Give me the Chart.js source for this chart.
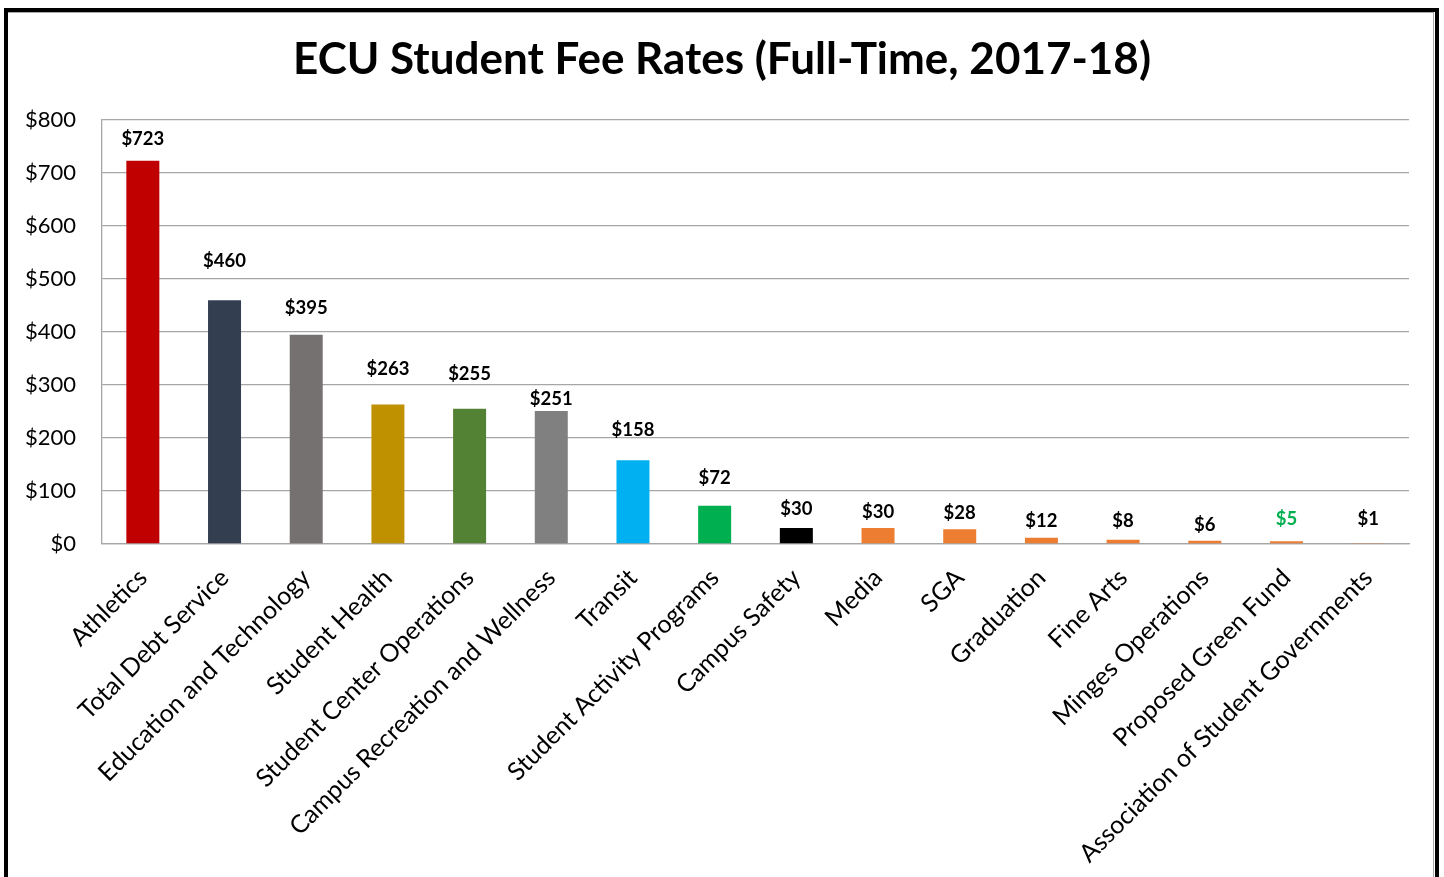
<!DOCTYPE html>
<html>
<head>
<meta charset="utf-8">
<script src="https://cdn.jsdelivr.net/npm/chart.js@4.4.0/dist/chart.umd.min.js"></script>
<style>
  html, body { margin: 0; padding: 0; background: #fff; overflow: hidden; }
  #wrap { position: relative; width: 1444px; height: 877px; }
  #frame { position: absolute; left: 4px; top: 8px; width: 1427px; height: 900px;
           border-left: 4px solid #000; border-top: 4px solid #000; border-right: 4px solid #000;
           pointer-events: none; }
  #frame2 { position: absolute; left: 8px; top: 12px; width: 1425px; height: 900px;
           border-top: 1px solid #aaa; border-right: 1px solid #aaa; pointer-events: none; }
  canvas { position: absolute; left: 0; top: 0; }
</style>
</head>
<body>
<div id="wrap">
  <canvas id="c" width="1444" height="877"></canvas>
  <div id="frame"></div>
  <div id="frame2"></div>
</div>
<script>
const chartTitle = "ECU Student Fee Rates (Full-Time, 2017-18)";
const categories = [
  "Athletics", "Total Debt Service", "Education and Technology", "Student Health",
  "Student Center Operations", "Campus Recreation and Wellness", "Transit",
  "Student Activity Programs", "Campus Safety", "Media", "SGA", "Graduation",
  "Fine Arts", "Minges Operations", "Proposed Green Fund", "Association of Student Governments"
];
const feeValues = [723, 460, 395, 263, 255, 251, 158, 72, 30, 30, 28, 12, 8, 6, 5, 1];
const barColors = [
  "#C00000", "#333F50", "#767171", "#BF9000", "#548235", "#808080", "#00B0F0",
  "#00B050", "#000000", "#ED7D31", "#ED7D31", "#ED7D31", "#ED7D31", "#ED7D31",
  "#ED7D31", "#ED7D31"
];
const labelColors = [
  "#000", "#000", "#000", "#000", "#000", "#000", "#000", "#000", "#000",
  "#000", "#000", "#000", "#000", "#000", "#00B050", "#000"
];
// vertical offset (px) of each value label's centre from its bar top (style only)
const labelOffsets = [-22, -39, -27, -36, -35, -12, -30, -28, -19, -16, -16, -17, -19, -16, -22, -24];
const yTicks = [0, 100, 200, 300, 400, 500, 600, 700, 800];

const FONT = "Lato, Carlito, Calibri, 'Open Sans', sans-serif";

const valueLabels = {
  id: "valueLabels",
  afterDatasetsDraw(chart) {
    const ctx = chart.ctx;
    const meta = chart.getDatasetMeta(0);
    ctx.save();
    ctx.font = "bold 18.5px " + FONT;
    ctx.textAlign = "center";
    ctx.textBaseline = "middle";
    meta.data.forEach((bar, i) => {
      ctx.fillStyle = labelColors[i];
      ctx.fillText("$" + feeValues[i], bar.x, bar.y + labelOffsets[i]);
    });
    ctx.restore();
  }
};

const centeredTitle = {
  id: "centeredTitle",
  afterDraw(chart) {
    const ctx = chart.ctx;
    ctx.save();
    ctx.font = "bold 44px " + FONT;
    ctx.fillStyle = "#000";
    ctx.textAlign = "center";
    ctx.textBaseline = "middle";
    ctx.fillText(chartTitle, chart.width / 2, 60);
    ctx.restore();
  }
};

new Chart(document.getElementById("c"), {
  type: "bar",
  data: {
    labels: categories,
    datasets: [{
      data: feeValues,
      backgroundColor: barColors,
      borderWidth: 0,
      barPercentage: 0.404,
      categoryPercentage: 1.0
    }]
  },
  options: {
    responsive: false,
    animation: false,
    devicePixelRatio: 1,
    layout: { padding: { left: 0, right: 35, top: 120, bottom: 0 } },
    plugins: {
      legend: { display: false },
      tooltip: { enabled: false },
      title: { display: false }
    },
    scales: {
      y: {
        min: 0, max: 800,
        afterFit(scale) { scale.width = 102; },
        afterBuildTicks(scale) { scale.ticks = yTicks.map(v => ({ value: v })); },
        ticks: {
          color: "#000",
          font: { family: FONT, size: 22 },
          padding: 26,
          callback: v => "$" + v
        },
        grid: { color: "#A6A6A6", lineWidth: 1.3, drawTicks: false },
        border: { color: "#A6A6A6", width: 1.3 }
      },
      x: {
        afterFit(scale) { scale.height = 877 - 544; },
        ticks: {
          color: "#000",
          font: { family: FONT, size: 25 },
          minRotation: 45, maxRotation: 45,
          autoSkip: false,
          padding: 19
        },
        grid: { display: false, drawTicks: false },
        border: { color: "#A6A6A6", width: 1.3 }
      }
    }
  },
  plugins: [valueLabels, centeredTitle]
});
</script>
</body>
</html>
